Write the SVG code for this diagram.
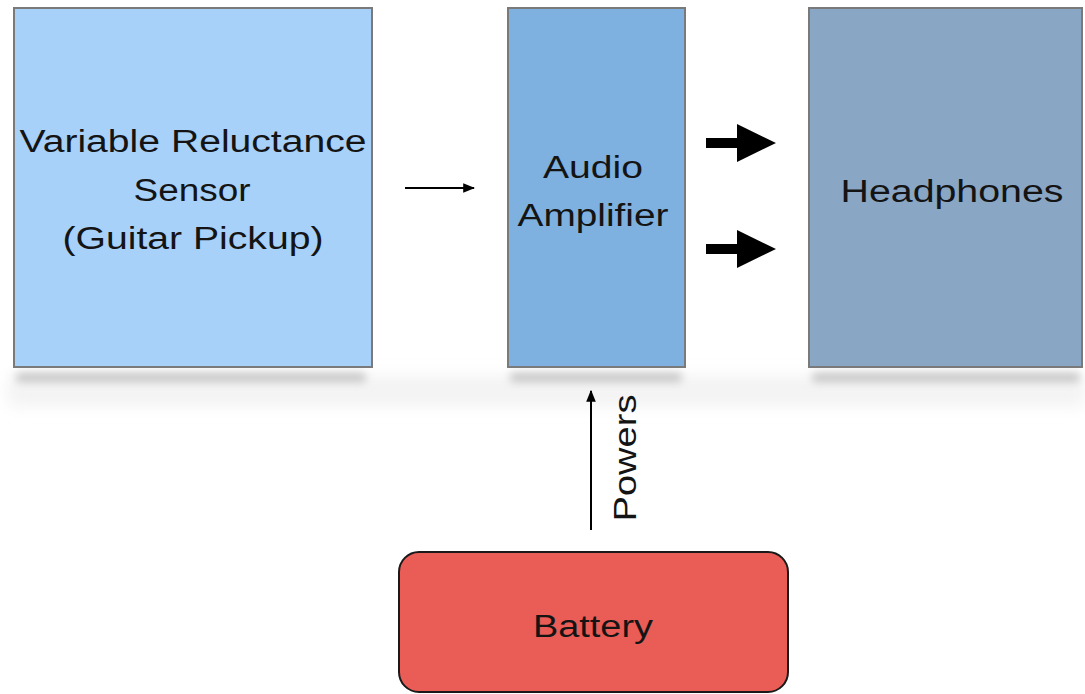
<svg xmlns="http://www.w3.org/2000/svg" width="1085" height="694" viewBox="0 0 1085 694">
  <style>
    .box { stroke: #7a7a7a; stroke-width: 2; }
    .label { font-family: "Liberation Sans", Arial, sans-serif; font-size: 31px; fill: #141414; text-anchor: middle; }
    .thin { stroke: #000; stroke-width: 2; fill: none; }
  </style>
  <defs>
    <filter id="shadowBlur" x="-20%" y="-300%" width="140%" height="700%">
      <feGaussianBlur stdDeviation="4.5"/>
    </filter>
    <filter id="hazeBlur" x="-5%" y="-100%" width="110%" height="300%">
      <feGaussianBlur stdDeviation="8"/>
    </filter>
    <marker id="thinHead" viewBox="0 0 10 10" refX="9" refY="5" markerWidth="6" markerHeight="6" orient="auto" markerUnits="strokeWidth">
      <path d="M0,1 L10,5 L0,9 Z" fill="#000"/>
    </marker>
  </defs>

  <rect width="1085" height="694" fill="#ffffff"/>
  <!-- faint floor haze below the top row -->
  <rect x="8" y="376" width="1077" height="30" fill="#f3f3f3" filter="url(#hazeBlur)"/>

  <!-- soft drop shadows under the top row -->
  <g id="shadows" filter="url(#shadowBlur)" fill="#c4c4c4">
    <rect x="16" y="373" width="350" height="9" rx="4"/>
    <rect x="510" y="373" width="172" height="9" rx="4"/>
    <rect x="812" y="373" width="268" height="9" rx="4"/>
  </g>

  <g id="sensor">
    <rect class="box" x="14" y="8" width="358" height="359" fill="#a8d1fa"/>
    <text class="label" x="193" y="152" textLength="347" lengthAdjust="spacingAndGlyphs">Variable Reluctance</text>
    <text class="label" x="192" y="201" textLength="117" lengthAdjust="spacingAndGlyphs">Sensor</text>
    <text class="label" x="193" y="249" textLength="261" lengthAdjust="spacingAndGlyphs">(Guitar Pickup)</text>
  </g>

  <g id="amplifier">
    <rect class="box" x="508" y="8" width="177" height="359" fill="#7eb1e0"/>
    <text class="label" x="593" y="178" textLength="100" lengthAdjust="spacingAndGlyphs">Audio</text>
    <text class="label" x="593" y="226" textLength="151" lengthAdjust="spacingAndGlyphs">Amplifier</text>
  </g>

  <g id="headphones">
    <rect class="box" x="809" y="8" width="273" height="359" fill="#89a6c4"/>
    <text class="label" x="952" y="202" textLength="223" lengthAdjust="spacingAndGlyphs">Headphones</text>
  </g>

  <g id="battery">
    <rect x="399" y="552" width="389" height="140" rx="20" ry="20" fill="#ea5c56" stroke="#1a1a1a" stroke-width="2"/>
    <text class="label" x="593" y="637" textLength="120" lengthAdjust="spacingAndGlyphs">Battery</text>
  </g>

  <g id="connectors">
    <!-- sensor to amplifier -->
    <line class="thin" x1="405" y1="188" x2="474" y2="188" marker-end="url(#thinHead)"/>
    <!-- amplifier to headphones, two channels -->
    <path d="M706,138 H737 V124 L776,143 L737,162 V148 H706 Z" fill="#000"/>
    <path d="M706,244 H737 V230 L776,249 L737,268 V254 H706 Z" fill="#000"/>
    <!-- battery powers amplifier -->
    <line class="thin" x1="591" y1="530" x2="591" y2="391" marker-end="url(#thinHead)"/>
    <text class="label" transform="translate(636,458) rotate(-90)" textLength="127" lengthAdjust="spacingAndGlyphs">Powers</text>
  </g>
</svg>
